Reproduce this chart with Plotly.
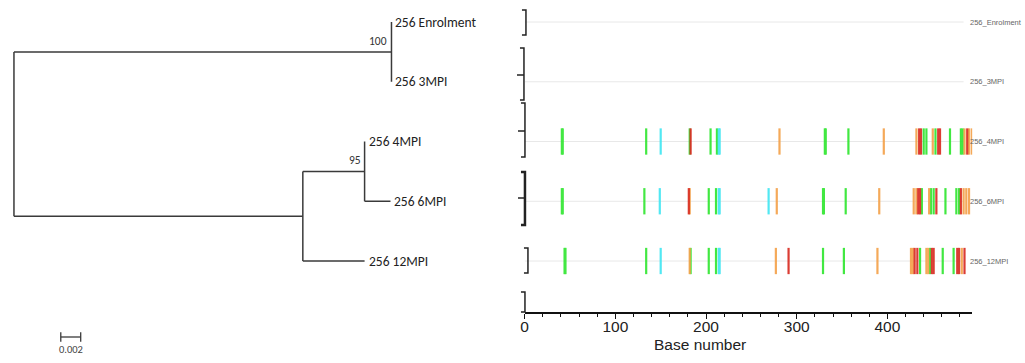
import plotly.graph_objects as go

# ---------------- data ----------------
taxa = ["256 Enrolment", "256 3MPI", "256 4MPI", "256 6MPI", "256 12MPI"]

# tree: node -> (parent, branch length)
tree_nodes = {
    "root": (None, 0.0),
    "A": ("root", 0.0379),
    "B": ("root", 0.0290),
    "C": ("B", 0.0062),
    "256 Enrolment": ("A", 0.0),
    "256 3MPI": ("A", 0.0),
    "256 4MPI": ("C", 0.0),
    "256 6MPI": ("C", 0.0026),
    "256 12MPI": ("B", 0.0062),
}
bootstrap = {"A": 100, "C": 95}
scale_bar_len = 0.002

# highlighter: mutations per sequence, (base position, nucleotide)
mut_enrolment = []
mut_3mpi = []
mut_4mpi = [(41, "A"), (42, "A"), (134, "A"), (150, "C"), (182, "A"), (183, "T"),
            (205, "A"), (212, "A"), (214, "C"), (215, "C"), (281, "G"), (331, "A"),
            (332, "A"), (357, "A"), (396, "G"), (432, "G"), (435, "T"), (437, "T"),
            (440, "A"), (443, "A"), (450, "G"), (453, "A"), (456, "T"), (458, "T"),
            (469, "A"), (481, "A"), (483, "A"), (485, "G"), (488, "T"), (490, "G"),
            (493, "G")]
mut_6mpi = [(41, "A"), (42, "A"), (132, "A"), (149, "C"), (181, "T"), (182, "G"),
            (203, "A"), (211, "A"), (214, "C"), (215, "C"), (269, "C"), (278, "G"),
            (329, "A"), (330, "A"), (354, "A"), (391, "G"), (429, "G"), (432, "G"),
            (434, "T"), (436, "T"), (438, "A"), (446, "G"), (448, "A"), (451, "A"),
            (454, "T"), (464, "A"), (476, "A"), (479, "A"), (481, "T"), (484, "G"),
            (487, "G"), (490, "G")]
mut_12mpi = [(44, "A"), (45, "A"), (134, "A"), (150, "C"), (182, "G"), (183, "A"),
             (203, "A"), (211, "A"), (214, "C"), (215, "C"), (277, "G"), (291, "T"),
             (329, "A"), (352, "A"), (389, "G"), (426, "G"), (428, "G"), (430, "T"),
             (433, "T"), (436, "A"), (443, "G"), (445, "G"), (447, "A"), (449, "T"),
             (451, "T"), (461, "A"), (473, "A"), (477, "T"), (479, "T"), (482, "G"),
             (485, "T")]
mutations = [mut_enrolment, mut_3mpi, mut_4mpi, mut_6mpi, mut_12mpi]
seq_length = 493.5
x_ticks = [0, 100, 200, 300, 400]
x_title = "Base number"

# ---------------- style ----------------
W, H = 1025, 363
nt_colors = {"A": "#2fe62f", "C": "#3fe6f2", "G": "#f4a048", "T": "#d8281e"}
tree_color = "#3a3a3a"
tree_font = "Carlito, 'Liberation Sans Narrow', 'Noto Sans', sans-serif"
axis_font = "'Liberation Sans', Arial, sans-serif"
row0_px, row_step_px = 22.0, 59.75
axis_px = 312.0
ax2_domain = [522.7 / W, 972 / W]

def px_to_index(py):
    return (py - row0_px) / row_step_px

def paper_y(py):
    return 1 - py / H

fig = go.Figure()

# ---------------- tree ----------------
children = {}
for n, (p, bl) in tree_nodes.items():
    if p is not None:
        children.setdefault(p, []).append(n)
xpos, ypos = {}, {}

def place(n, x):
    xpos[n] = x
    for c in children.get(n, []):
        place(c, x + tree_nodes[c][1])
    if n in taxa:
        ypos[n] = taxa.index(n)
    else:
        ys = [ypos[c] for c in children[n]]
        ypos[n] = (min(ys) + max(ys)) / 2

place("root", 0.0)

lx, ly = [], []
for n, kids in children.items():
    ys = [ypos[c] for c in kids]
    lx += [xpos[n], xpos[n], None]
    ly += [min(ys), max(ys), None]
    for c in kids:
        lx += [xpos[n], xpos[c], None]
        ly += [ypos[c], ypos[c], None]
fig.add_trace(go.Scatter(x=lx, y=ly, mode="lines", line=dict(color=tree_color, width=1.5),
                         hoverinfo="skip", showlegend=False, xaxis="x", yaxis="y"))
for t in taxa:
    fig.add_annotation(x=xpos[t], y=ypos[t], xref="x", yref="y", text=t, showarrow=False,
                       xanchor="left", xshift=2,
                       font=dict(family=tree_font, size=13.5, color="#222"))
for node, val in bootstrap.items():
    fig.add_annotation(x=xpos[node], y=ypos[node], xref="x", yref="y", text=str(val),
                       showarrow=False, xanchor="right", yanchor="bottom", xshift=-2, yshift=2,
                       font=dict(family=tree_font, size=11.5, color="#333"))

# scale bar
sb_x0, sb_y = 0.0047, px_to_index(337)
fig.add_trace(go.Scatter(x=[sb_x0, sb_x0 + scale_bar_len, None, sb_x0, sb_x0, None,
                            sb_x0 + scale_bar_len, sb_x0 + scale_bar_len],
                         y=[sb_y, sb_y, None, sb_y - 0.08, sb_y + 0.08, None, sb_y - 0.08, sb_y + 0.08],
                         mode="lines", line=dict(color=tree_color, width=1.3),
                         hoverinfo="skip", showlegend=False, xaxis="x", yaxis="y"))
fig.add_annotation(x=sb_x0 + scale_bar_len / 2, y=sb_y, xref="x", yref="y", text=str(scale_bar_len),
                   showarrow=False, yanchor="top", yshift=-4,
                   font=dict(family=tree_font, size=10.5, color="#444"))

# ---------------- highlighter ----------------
gx, gy = [], []
for i in range(len(taxa)):
    gx += [0, 484, None]
    gy += [i, i, None]
fig.add_trace(go.Scatter(x=gx, y=gy, mode="lines", line=dict(color="#e8e8e8", width=1),
                         hoverinfo="skip", showlegend=False, xaxis="x2", yaxis="y2"))
half = 0.22
for nt, col in nt_colors.items():
    bx, by = [], []
    for i, muts in enumerate(mutations):
        for pos, b in muts:
            if b == nt:
                bx += [pos, pos, None]
                by += [i - half, i + half, None]
    fig.add_trace(go.Scatter(x=bx, y=by, mode="lines", line=dict(color=col, width=2.2),
                             opacity=0.9, hoverinfo="skip", showlegend=False,
                             xaxis="x2", yaxis="y2"))

for i, t in enumerate(taxa):
    fig.add_annotation(x=968 / W, y=i, xref="paper", yref="y2", text=t.replace(" ", "_"),
                       showarrow=False, xanchor="left",
                       font=dict(family=axis_font, size=7.5, color="#666"))

# axis title
fig.add_annotation(x=(ax2_domain[0] + ax2_domain[1]) / 2, y=paper_y(344), xref="paper", yref="paper",
                   text=x_title, showarrow=False, yanchor="middle",
                   font=dict(family=axis_font, size=15.5, color="#222"))

# brackets (highlighter's collapsed tree), pixel style constants
brackets = [(524, 10, 35, None, 1.5), (522, 48, 100, 75, 1.5), (523, 103, 157, 131, 1.5),
            (523, 172, 225, 198, 2.5), (526, 248, 273, None, 1.5), (523, 292, 312, None, 1.5)]
for bxp, yt, yb, tk, w in brackets:
    path = (f"M {(bxp - 4) / W},{paper_y(yt)} L {bxp / W},{paper_y(yt)} L {bxp / W},{paper_y(yb)} "
            f"L {(bxp - 4) / W},{paper_y(yb)}")
    fig.add_shape(type="path", path=path, xref="paper", yref="paper",
                  line=dict(color="#222", width=w))
    if tk is not None:
        fig.add_shape(type="line", x0=(bxp - 7) / W, x1=bxp / W, y0=paper_y(tk), y1=paper_y(tk),
                      xref="paper", yref="paper", line=dict(color="#222", width=1.5))

fig.update_layout(
    width=W, height=H, margin=dict(l=0, r=0, t=0, b=0),
    paper_bgcolor="white", plot_bgcolor="white", showlegend=False,
    xaxis=dict(domain=[0, 500 / W], range=[-0.001, 0.049], visible=False),
    yaxis=dict(domain=[0, 1], range=[px_to_index(H), px_to_index(0)], visible=False),
    xaxis2=dict(domain=ax2_domain, range=[0, seq_length], anchor="y2",
                showline=True, linecolor="#111", linewidth=1.5, showgrid=False, zeroline=False,
                ticks="outside", ticklen=5, tickcolor="#111", tickwidth=1.2,
                tickvals=x_ticks, ticktext=[str(v) for v in x_ticks],
                ticklabelstandoff=-5,
                tickfont=dict(family=axis_font, size=15.5, color="#222"),
                minor=dict(dtick=20, tick0=0, ticks="outside", ticklen=3, tickcolor="#111", showgrid=False)),
    yaxis2=dict(domain=[1 - axis_px / H, 1], range=[px_to_index(axis_px), px_to_index(0)],
                anchor="x2", visible=False),
)

fig.write_html("out.html", config={"displayModeBar": False},
               post_script="document.body.style.margin='0';document.documentElement.style.overflow='hidden';")
